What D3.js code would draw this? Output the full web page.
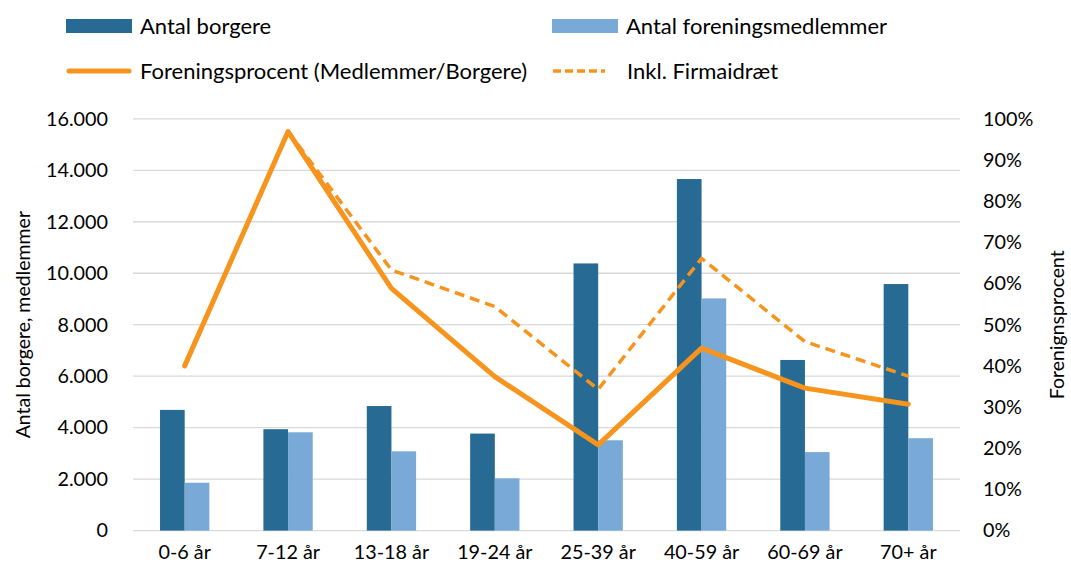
<!DOCTYPE html>
<html>
<head>
<meta charset="utf-8">
<script src="https://cdn.jsdelivr.net/npm/d3@7"></script>
<style>
  body { margin: 0; background: #fff; }
  text { font-family: Lato, "Open Sans", sans-serif; fill: #000; }
</style>
</head>
<body>
<script>
// data
let categories = ["0-6 år", "7-12 år", "13-18 år", "19-24 år", "25-39 år", "40-59 år", "60-69 år", "70+ år"];
let borgere = [4690, 3940, 4840, 3770, 10380, 13660, 6630, 9580];
let medlemmer = [1860, 3820, 3080, 2030, 3510, 9020, 3050, 3590];
let procent = [0.400, 0.969, 0.588, 0.374, 0.208, 0.443, 0.346, 0.307];
let procentInkl = [null, 0.969, 0.633, 0.544, 0.343, 0.661, 0.459, 0.375];
let leftTicks = [0, 2000, 4000, 6000, 8000, 10000, 12000, 14000, 16000];
let rightTicks = [0, 0.1, 0.2, 0.3, 0.4, 0.5, 0.6, 0.7, 0.8, 0.9, 1];

let width = 1071, height = 570;
let margin = {top: 118.8, left: 133, right: 111, bottom: 39.4};

let svg = d3.select("body").append("svg")
  .attr("width", width)
  .attr("height", height);

let x = d3.scaleBand()
  .domain(categories)
  .range([margin.left, width - margin.right])
  .paddingInner(0.523)
  .paddingOuter(0.2615);
let xSub = d3.scaleBand()
  .domain(["b", "m"])
  .range([0, x.bandwidth()]);
let yL = d3.scaleLinear().domain([0, 16000]).range([height - margin.bottom, margin.top]);
let yR = d3.scaleLinear().domain([0, 1]).range([height - margin.bottom, margin.top]);

// gridlines
svg.append("g")
  .selectAll("line")
  .data(leftTicks)
  .join("line")
  .attr("x1", margin.left)
  .attr("x2", width - margin.right)
  .attr("y1", d => yL(d))
  .attr("y2", d => yL(d))
  .attr("stroke", "#d9d9d9")
  .attr("stroke-width", 1.3);

// axes
let fmt = d => d3.format(",")(d).replace(/,/g, ".");
let leftAxis = svg.append("g")
  .attr("transform", "translate(" + margin.left + ",0)")
  .call(d3.axisLeft(yL).tickValues(leftTicks).tickFormat(fmt).tickSize(0).tickPadding(25));
let rightAxis = svg.append("g")
  .attr("transform", "translate(" + (width - margin.right) + ",0)")
  .call(d3.axisRight(yR).tickValues(rightTicks).tickFormat(d3.format(".0%")).tickSize(0).tickPadding(23));
let bottomAxis = svg.append("g")
  .attr("transform", "translate(0," + (height - margin.bottom) + ")")
  .call(d3.axisBottom(x).tickSize(0).tickPadding(14));
[leftAxis, rightAxis, bottomAxis].forEach(a => {
  a.select(".domain").remove();
  a.selectAll("text").attr("font-size", 19.8).attr("font-family", "Lato, 'Open Sans', sans-serif");
});

// bars
let groups = svg.append("g")
  .selectAll("g")
  .data(categories)
  .join("g")
  .attr("transform", d => "translate(" + x(d) + ",0)");
groups.append("rect")
  .attr("x", xSub("b"))
  .attr("width", xSub.bandwidth())
  .attr("y", (d, i) => yL(borgere[i]))
  .attr("height", (d, i) => yL(0) - yL(borgere[i]))
  .attr("fill", "#276a93");
groups.append("rect")
  .attr("x", xSub("m"))
  .attr("width", xSub.bandwidth())
  .attr("y", (d, i) => yL(medlemmer[i]))
  .attr("height", (d, i) => yL(0) - yL(medlemmer[i]))
  .attr("fill", "#79a9d6");

// lines
let cx = d => x(d) + x.bandwidth() / 2;
let line = d3.line()
  .defined(d => d[1] !== null)
  .x(d => cx(d[0]))
  .y(d => yR(d[1]));
svg.append("path")
  .datum(categories.map((c, i) => [c, procentInkl[i]]))
  .attr("d", line)
  .attr("fill", "none")
  .attr("stroke", "#f7941d")
  .attr("stroke-width", 3.5)
  .attr("stroke-dasharray", "10,6")
  .attr("stroke-linejoin", "round");
svg.append("path")
  .datum(categories.map((c, i) => [c, procent[i]]))
  .attr("d", line)
  .attr("fill", "none")
  .attr("stroke", "#f7941d")
  .attr("stroke-width", 5)
  .attr("stroke-linecap", "round")
  .attr("stroke-linejoin", "round");

// axis titles
let midY = (margin.top + height - margin.bottom) / 2;
svg.append("text")
  .attr("transform", "translate(30," + midY + ") rotate(-90)")
  .attr("text-anchor", "middle")
  .attr("font-size", 19.5)
  .text("Antal borgere, medlemmer");
svg.append("text")
  .attr("transform", "translate(1064," + midY + ") rotate(-90)")
  .attr("text-anchor", "middle")
  .attr("font-size", 19.5)
  .text("Forenignsprocent");

// legend
let legend = svg.append("g");
let items = [
  {label: "Antal borgere", type: "rect", color: "#276a93", x: 66, y: 26},
  {label: "Antal foreningsmedlemmer", type: "rect", color: "#79a9d6", x: 552, y: 26},
  {label: "Foreningsprocent (Medlemmer/Borgere)", type: "line", color: "#f7941d", x: 66, y: 71},
  {label: "Inkl. Firmaidræt", type: "dash", color: "#f7941d", x: 553, y: 71}
];
items.forEach(it => {
  if (it.type === "rect") {
    legend.append("rect")
      .attr("x", it.x).attr("y", it.y - 7)
      .attr("width", 66).attr("height", 14)
      .attr("fill", it.color);
  } else if (it.type === "line") {
    legend.append("line")
      .attr("x1", it.x + 3).attr("x2", it.x + 63)
      .attr("y1", it.y).attr("y2", it.y)
      .attr("stroke", it.color).attr("stroke-width", 5)
      .attr("stroke-linecap", "round");
  } else {
    legend.append("line")
      .attr("x1", it.x).attr("x2", it.x + 52)
      .attr("y1", it.y).attr("y2", it.y)
      .attr("stroke", it.color).attr("stroke-width", 3.5)
      .attr("stroke-dasharray", "8,4");
  }
  legend.append("text")
    .attr("x", it.x + 74)
    .attr("y", it.y + 8)
    .attr("font-size", 22)
    .text(it.label);
});
</script>
</body>
</html>
